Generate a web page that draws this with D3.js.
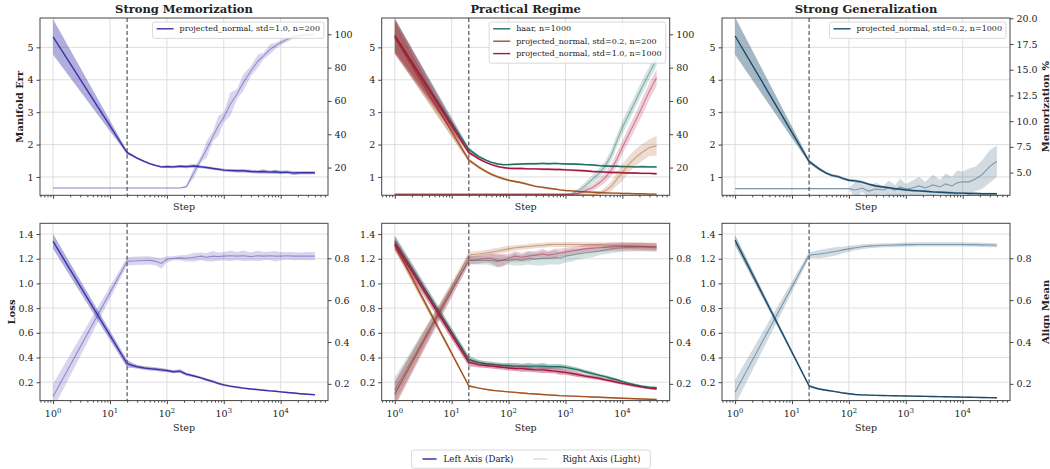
<!DOCTYPE html>
<html>
<head>
<meta charset="utf-8">
<script src="https://cdn.jsdelivr.net/npm/d3@7"></script>
<style>
  body { margin: 0; background: #fff; }
  svg text { font-family: 'DejaVu Serif', serif; fill: #222; }
</style>
</head>
<body>
<svg id="chart" width="1050" height="469"></svg>
<script>
// logged training steps
const steps = [1, 20, 25, 30, 40, 50, 65, 80, 100, 130, 170, 220, 300, 400, 500, 650, 800, 1000, 1300, 1700, 2200, 3000, 4000, 5000, 6500, 8000, 10000, 13000, 17000, 22000, 30000, 40000];

// Strong Memorization: projected_normal, std=1.0, n=200
const memErr = [5.32, 1.75, 1.66, 1.58, 1.48, 1.41, 1.35, 1.31, 1.32, 1.31, 1.33, 1.32, 1.34, 1.31, 1.29, 1.26, 1.24, 1.21, 1.20, 1.19, 1.19, 1.17, 1.16, 1.17, 1.15, 1.16, 1.14, 1.15, 1.12, 1.13, 1.13, 1.13];
const memErrSd = [0.55, 0.05, 0.04, 0.03, 0.03, 0.03, 0.03, 0.03, 0.04, 0.04, 0.04, 0.05, 0.05, 0.04, 0.04, 0.04, 0.04, 0.04, 0.04, 0.05, 0.05, 0.05, 0.05, 0.06, 0.05, 0.06, 0.05, 0.05, 0.06, 0.05, 0.05, 0.05];
const memPct = [7.7, 7.7, 7.7, 7.7, 7.7, 7.7, 7.7, 7.7, 7.7, 7.7, 7.7, 8.5, 17, 25, 31, 39, 45, 50, 58, 64, 71, 78, 84, 87, 91, 93, 95, 97, 98.5, 99.2, 99.8, 100];
const memPctSd = [0.3, 0.3, 0.3, 0.3, 0.3, 0.3, 0.3, 0.3, 0.3, 0.3, 0.3, 0.8, 3, 2, 5, 3, 6, 3, 7, 3, 5, 3, 4, 2, 3, 2, 1.5, 1.5, 1, 1, 0.8, 0.8];
const memLoss = [1.34, 0.35, 0.335, 0.325, 0.315, 0.31, 0.305, 0.30, 0.295, 0.285, 0.29, 0.265, 0.25, 0.235, 0.22, 0.205, 0.19, 0.178, 0.168, 0.16, 0.152, 0.145, 0.14, 0.135, 0.13, 0.127, 0.122, 0.117, 0.112, 0.107, 0.102, 0.098];
const memLossSd = [0.06, 0.03, 0.02, 0.015, 0.015, 0.015, 0.015, 0.015, 0.012, 0.012, 0.015, 0.012, 0.01, 0.01, 0.01, 0.01, 0.01, 0.008, 0.008, 0.008, 0.007, 0.007, 0.007, 0.006, 0.006, 0.006, 0.005, 0.005, 0.005, 0.005, 0.004, 0.004];
const memAlign = [0.14, 0.785, 0.787, 0.788, 0.789, 0.79, 0.785, 0.775, 0.795, 0.80, 0.802, 0.80, 0.805, 0.81, 0.805, 0.81, 0.808, 0.81, 0.812, 0.81, 0.812, 0.808, 0.812, 0.81, 0.812, 0.81, 0.81, 0.812, 0.81, 0.81, 0.81, 0.81];
const memAlignSd = [0.06, 0.02, 0.02, 0.02, 0.02, 0.02, 0.02, 0.025, 0.015, 0.01, 0.012, 0.015, 0.02, 0.018, 0.02, 0.025, 0.02, 0.02, 0.025, 0.02, 0.025, 0.02, 0.025, 0.02, 0.02, 0.025, 0.02, 0.018, 0.02, 0.018, 0.02, 0.02];

// Practical Regime: haar, n=1000
const haarErr = [5.38, 1.85, 1.73, 1.63, 1.52, 1.45, 1.40, 1.38, 1.38, 1.39, 1.40, 1.41, 1.41, 1.42, 1.41, 1.42, 1.41, 1.40, 1.40, 1.39, 1.38, 1.37, 1.35, 1.34, 1.33, 1.33, 1.32, 1.32, 1.31, 1.32, 1.31, 1.31];
const haarErrSd = [0.5, 0.07, 0.05, 0.04, 0.03, 0.03, 0.03, 0.03, 0.03, 0.03, 0.03, 0.03, 0.03, 0.03, 0.03, 0.03, 0.03, 0.03, 0.03, 0.03, 0.03, 0.03, 0.03, 0.03, 0.03, 0.03, 0.03, 0.03, 0.03, 0.03, 0.03, 0.03];
const haarPct = [3.9, 3.9, 3.9, 3.9, 3.9, 3.9, 3.9, 3.9, 3.9, 3.9, 3.9, 3.9, 3.9, 3.9, 3.9, 3.9, 3.9, 3.9, 4.2, 6, 9, 13, 17, 21, 28, 36, 44, 52, 60, 68, 77, 85];
const haarPctSd = [0.4, 0.4, 0.4, 0.4, 0.4, 0.4, 0.4, 0.4, 0.4, 0.4, 0.4, 0.4, 0.4, 0.4, 0.4, 0.4, 0.4, 0.4, 1, 1.5, 2, 2.5, 3, 3, 3.5, 3.5, 4, 4, 4, 4, 4, 4];
const haarLoss = [1.34, 0.385, 0.37, 0.36, 0.35, 0.345, 0.34, 0.335, 0.335, 0.33, 0.33, 0.33, 0.33, 0.33, 0.325, 0.325, 0.325, 0.32, 0.31, 0.30, 0.285, 0.27, 0.255, 0.245, 0.23, 0.22, 0.205, 0.19, 0.178, 0.168, 0.16, 0.155];
const haarLossSd = [0.05, 0.03, 0.025, 0.02, 0.02, 0.02, 0.02, 0.02, 0.02, 0.025, 0.02, 0.025, 0.02, 0.025, 0.02, 0.02, 0.02, 0.02, 0.02, 0.015, 0.015, 0.015, 0.012, 0.012, 0.012, 0.01, 0.01, 0.01, 0.01, 0.008, 0.008, 0.008];
const haarAlign = [0.17, 0.79, 0.79, 0.79, 0.79, 0.79, 0.785, 0.792, 0.79, 0.795, 0.79, 0.80, 0.795, 0.80, 0.80, 0.805, 0.80, 0.81, 0.815, 0.82, 0.825, 0.83, 0.835, 0.84, 0.845, 0.848, 0.85, 0.852, 0.853, 0.853, 0.852, 0.85];
const haarAlignSd = [0.06, 0.02, 0.02, 0.02, 0.02, 0.025, 0.03, 0.025, 0.02, 0.03, 0.025, 0.03, 0.03, 0.035, 0.03, 0.035, 0.03, 0.03, 0.03, 0.025, 0.025, 0.025, 0.02, 0.02, 0.02, 0.02, 0.02, 0.02, 0.02, 0.02, 0.02, 0.02];

// Practical Regime: projected_normal, std=0.2, n=200
const pn02Err = [5.30, 1.52, 1.40, 1.30, 1.17, 1.08, 1.00, 0.95, 0.90, 0.86, 0.82, 0.77, 0.71, 0.68, 0.65, 0.63, 0.60, 0.58, 0.57, 0.55, 0.54, 0.53, 0.52, 0.51, 0.50, 0.50, 0.49, 0.49, 0.48, 0.48, 0.47, 0.47];
const pn02ErrSd = [0.5, 0.06, 0.05, 0.05, 0.04, 0.04, 0.04, 0.04, 0.03, 0.03, 0.03, 0.03, 0.03, 0.03, 0.03, 0.02, 0.02, 0.02, 0.02, 0.02, 0.02, 0.02, 0.02, 0.02, 0.02, 0.02, 0.02, 0.02, 0.02, 0.02, 0.02, 0.02];
const pn02Pct = [3.9, 3.9, 3.9, 3.9, 3.9, 3.9, 3.9, 3.9, 3.9, 3.9, 3.9, 3.9, 3.9, 3.9, 3.9, 3.9, 3.9, 3.9, 3.9, 3.9, 3.9, 3.9, 4.5, 6, 9, 13, 17, 22, 26, 29, 32, 33];
const pn02PctSd = [0.4, 0.4, 0.4, 0.4, 0.4, 0.4, 0.4, 0.4, 0.4, 0.4, 0.4, 0.4, 0.4, 0.4, 0.4, 0.4, 0.4, 0.4, 0.4, 0.4, 0.4, 0.4, 1, 2, 3, 4, 5, 5, 5, 5, 5, 6];
const pn02Loss = [1.31, 0.17, 0.16, 0.152, 0.142, 0.135, 0.13, 0.126, 0.122, 0.118, 0.113, 0.108, 0.104, 0.10, 0.097, 0.094, 0.091, 0.089, 0.087, 0.085, 0.083, 0.08, 0.078, 0.076, 0.074, 0.072, 0.07, 0.068, 0.066, 0.064, 0.062, 0.06];
const pn02LossSd = [0.04, 0.008, 0.007, 0.006, 0.006, 0.005, 0.005, 0.005, 0.005, 0.005, 0.005, 0.005, 0.005, 0.005, 0.005, 0.005, 0.005, 0.005, 0.005, 0.005, 0.005, 0.005, 0.005, 0.005, 0.005, 0.005, 0.005, 0.005, 0.005, 0.005, 0.005, 0.005];
const pn02Align = [0.15, 0.815, 0.818, 0.82, 0.825, 0.83, 0.835, 0.84, 0.845, 0.85, 0.853, 0.856, 0.86, 0.862, 0.865, 0.866, 0.866, 0.866, 0.866, 0.866, 0.865, 0.865, 0.864, 0.863, 0.862, 0.861, 0.86, 0.859, 0.858, 0.857, 0.856, 0.855];
const pn02AlignSd = [0.06, 0.015, 0.015, 0.015, 0.015, 0.015, 0.015, 0.015, 0.015, 0.012, 0.012, 0.012, 0.012, 0.012, 0.012, 0.012, 0.012, 0.012, 0.012, 0.012, 0.012, 0.012, 0.012, 0.012, 0.015, 0.015, 0.015, 0.015, 0.015, 0.015, 0.015, 0.015];

// Practical Regime: projected_normal, std=1.0, n=1000
const pn10Err = [5.35, 1.75, 1.65, 1.56, 1.45, 1.38, 1.32, 1.29, 1.27, 1.26, 1.26, 1.25, 1.25, 1.24, 1.24, 1.23, 1.23, 1.22, 1.21, 1.20, 1.19, 1.17, 1.16, 1.15, 1.14, 1.14, 1.13, 1.12, 1.12, 1.11, 1.11, 1.10];
const pn10ErrSd = [0.55, 0.05, 0.04, 0.04, 0.03, 0.03, 0.03, 0.03, 0.03, 0.03, 0.03, 0.03, 0.03, 0.03, 0.03, 0.03, 0.03, 0.03, 0.03, 0.03, 0.03, 0.03, 0.03, 0.03, 0.03, 0.03, 0.03, 0.03, 0.03, 0.03, 0.03, 0.03];
const pn10Pct = [3.9, 3.9, 3.9, 3.9, 3.9, 3.9, 3.9, 3.9, 3.9, 3.9, 3.9, 3.9, 3.9, 3.9, 3.9, 3.9, 3.9, 3.9, 3.9, 4.5, 6, 8, 11, 14, 19, 25, 32, 40, 48, 56, 66, 74];
const pn10PctSd = [0.4, 0.4, 0.4, 0.4, 0.4, 0.4, 0.4, 0.4, 0.4, 0.4, 0.4, 0.4, 0.4, 0.4, 0.4, 0.4, 0.4, 0.4, 0.4, 1, 1.5, 2, 2.5, 3, 3.5, 4, 4, 4.5, 4.5, 5, 5, 5];
const pn10Loss = [1.32, 0.36, 0.35, 0.34, 0.335, 0.33, 0.325, 0.32, 0.315, 0.31, 0.31, 0.305, 0.30, 0.30, 0.295, 0.29, 0.285, 0.28, 0.27, 0.26, 0.25, 0.24, 0.23, 0.22, 0.21, 0.20, 0.19, 0.18, 0.17, 0.16, 0.15, 0.145];
const pn10LossSd = [0.05, 0.03, 0.025, 0.02, 0.02, 0.02, 0.02, 0.02, 0.02, 0.02, 0.025, 0.02, 0.02, 0.025, 0.02, 0.02, 0.025, 0.02, 0.02, 0.02, 0.015, 0.015, 0.015, 0.012, 0.012, 0.012, 0.01, 0.01, 0.01, 0.008, 0.008, 0.008];
const pn10Align = [0.15, 0.79, 0.792, 0.795, 0.80, 0.80, 0.79, 0.79, 0.80, 0.81, 0.805, 0.81, 0.815, 0.82, 0.815, 0.82, 0.825, 0.83, 0.835, 0.84, 0.845, 0.848, 0.85, 0.852, 0.855, 0.855, 0.857, 0.857, 0.856, 0.856, 0.855, 0.855];
const pn10AlignSd = [0.06, 0.02, 0.02, 0.02, 0.02, 0.025, 0.03, 0.03, 0.02, 0.025, 0.02, 0.025, 0.02, 0.025, 0.02, 0.025, 0.02, 0.02, 0.02, 0.02, 0.02, 0.02, 0.02, 0.02, 0.02, 0.02, 0.02, 0.02, 0.02, 0.02, 0.02, 0.02];

// Strong Generalization: projected_normal, std=0.2, n=1000
const genErr = [5.35, 1.48, 1.35, 1.25, 1.12, 1.05, 1.01, 0.95, 0.90, 0.88, 0.84, 0.78, 0.72, 0.69, 0.67, 0.64, 0.62, 0.60, 0.58, 0.57, 0.56, 0.54, 0.53, 0.52, 0.51, 0.50, 0.50, 0.49, 0.49, 0.48, 0.48, 0.48];
const genErrSd = [0.58, 0.06, 0.05, 0.05, 0.04, 0.04, 0.04, 0.04, 0.04, 0.04, 0.04, 0.04, 0.03, 0.03, 0.03, 0.03, 0.03, 0.03, 0.03, 0.03, 0.03, 0.03, 0.03, 0.03, 0.03, 0.03, 0.03, 0.03, 0.03, 0.03, 0.03, 0.03];
const genPct = [3.44, 3.44, 3.44, 3.44, 3.44, 3.44, 3.44, 3.44, 3.44, 3.3, 3.5, 3.2, 3.4, 3.3, 3.5, 3.3, 3.6, 3.4, 3.5, 3.7, 3.5, 3.8, 3.6, 3.9, 3.7, 4.0, 4.1, 4.1, 4.4, 4.8, 5.6, 6.1];
const genPctSd = [0.05, 0.05, 0.05, 0.05, 0.05, 0.05, 0.05, 0.05, 0.05, 0.8, 0.4, 0.5, 0.6, 0.4, 0.7, 0.5, 0.8, 0.5, 0.7, 0.9, 0.6, 1.0, 0.7, 1.0, 0.9, 1.2, 1.0, 1.3, 1.2, 1.4, 1.6, 1.5];
const genLoss = [1.35, 0.17, 0.155, 0.145, 0.135, 0.128, 0.12, 0.112, 0.106, 0.10, 0.097, 0.095, 0.093, 0.092, 0.091, 0.09, 0.089, 0.088, 0.087, 0.086, 0.085, 0.084, 0.083, 0.082, 0.081, 0.08, 0.079, 0.078, 0.077, 0.076, 0.075, 0.074];
const genLossSd = [0.04, 0.008, 0.008, 0.007, 0.007, 0.006, 0.006, 0.006, 0.006, 0.005, 0.005, 0.005, 0.005, 0.005, 0.005, 0.005, 0.005, 0.005, 0.005, 0.005, 0.005, 0.005, 0.005, 0.005, 0.005, 0.005, 0.005, 0.005, 0.005, 0.005, 0.005, 0.005];
const genAlign = [0.16, 0.815, 0.818, 0.82, 0.825, 0.83, 0.835, 0.84, 0.845, 0.85, 0.855, 0.858, 0.86, 0.862, 0.862, 0.863, 0.864, 0.865, 0.865, 0.866, 0.866, 0.866, 0.866, 0.866, 0.866, 0.866, 0.866, 0.865, 0.865, 0.864, 0.863, 0.862];
const genAlignSd = [0.06, 0.015, 0.015, 0.02, 0.02, 0.02, 0.02, 0.015, 0.015, 0.012, 0.012, 0.01, 0.01, 0.01, 0.01, 0.01, 0.01, 0.01, 0.01, 0.01, 0.01, 0.01, 0.01, 0.01, 0.01, 0.01, 0.01, 0.01, 0.01, 0.01, 0.01, 0.01];

// ticks and labels
const stepTicks = [1, 10, 100, 1000, 10000];
const errTicks = [1, 2, 3, 4, 5];
const pctTicks = [20, 40, 60, 80, 100];
const genPctTicks = [5, 7.5, 10, 12.5, 15, 17.5, 20];
const lossTicks = [0.2, 0.4, 0.6, 0.8, 1.0, 1.2, 1.4];
const alignTicks = [0.2, 0.4, 0.6, 0.8];
const titles = ['Strong Memorization', 'Practical Regime', 'Strong Generalization'];
const phaseStep = 20;

// colours
const cMem = '#3b33a8', cHaar = '#1e6e63', cPn02 = '#a4521f', cPn10 = '#a8143f', cGen = '#1b4a6b';

const svg = d3.select('#chart');
const colX = [40, 381.7, 722];
const rowY = [18, 223.3];
const pw = 288, ph = 177.3;
// matplotlib-like 5% margin on log range 1..40000
const xDomain = [Math.pow(10, -0.23), Math.pow(10, 4.832)];

function pts(vals, sds) {
  return steps.map((s, i) => ({ s: s, v: vals[i], sd: sds[i] }));
}

function drawPanel(o) {
  const g = svg.append('g');
  const x = d3.scaleLog().domain(xDomain).range([o.x0, o.x0 + pw]);
  const yL = d3.scaleLinear().domain(o.leftDomain).range([o.y0 + ph, o.y0]);
  const yR = d3.scaleLinear().domain(o.rightDomain).range([o.y0 + ph, o.y0]);

  const clipId = 'clip' + o.id;
  svg.append('clipPath').attr('id', clipId)
    .append('rect').attr('x', o.x0).attr('y', o.y0).attr('width', pw).attr('height', ph);

  // grid
  g.selectAll('.vg').data(stepTicks).enter().append('line')
    .attr('x1', d => x(d)).attr('x2', d => x(d))
    .attr('y1', o.y0).attr('y2', o.y0 + ph)
    .attr('stroke', '#dadada').attr('stroke-width', 0.9);
  g.selectAll('.hg').data(o.leftTicks).enter().append('line')
    .attr('x1', o.x0).attr('x2', o.x0 + pw)
    .attr('y1', d => yL(d)).attr('y2', d => yL(d))
    .attr('stroke', '#dadada').attr('stroke-width', 0.9);

  const plot = g.append('g').attr('clip-path', 'url(#' + clipId + ')');

  // left (dark) series
  o.series.forEach(s => {
    const d = pts(s.left, s.leftSd);
    plot.append('path').datum(d)
      .attr('d', d3.area().x(p => x(p.s)).y0(p => yL(p.v - p.sd)).y1(p => yL(p.v + p.sd)))
      .attr('fill', s.color).attr('fill-opacity', 0.4).attr('stroke', 'none');
    plot.append('path').datum(d)
      .attr('d', d3.line().x(p => x(p.s)).y(p => yL(p.v)))
      .attr('fill', 'none').attr('stroke', s.color).attr('stroke-width', 1.4);
  });

  // phase boundary
  g.append('line')
    .attr('x1', x(phaseStep)).attr('x2', x(phaseStep))
    .attr('y1', o.y0).attr('y2', o.y0 + ph)
    .attr('stroke', '#555').attr('stroke-width', 1.2).attr('stroke-dasharray', '4,2.5');

  // right (light) series
  o.series.forEach(s => {
    const d = pts(s.right, s.rightSd);
    plot.append('path').datum(d)
      .attr('d', d3.area().x(p => x(p.s)).y0(p => yR(p.v - p.sd)).y1(p => yR(p.v + p.sd)))
      .attr('fill', s.color).attr('fill-opacity', 0.2).attr('stroke', 'none');
    plot.append('path').datum(d)
      .attr('d', d3.line().x(p => x(p.s)).y(p => yR(p.v)))
      .attr('fill', 'none').attr('stroke', s.color).attr('stroke-opacity', 0.45).attr('stroke-width', 1.1);
  });

  // frame
  g.append('rect').attr('x', o.x0).attr('y', o.y0).attr('width', pw).attr('height', ph)
    .attr('fill', 'none').attr('stroke', '#444').attr('stroke-width', 1);

  // axes
  const left = g.append('g').attr('transform', 'translate(' + o.x0 + ',0)')
    .call(d3.axisLeft(yL).tickValues(o.leftTicks).tickSize(3.5).tickPadding(3).tickFormat(o.leftFmt));
  const right = g.append('g').attr('transform', 'translate(' + (o.x0 + pw) + ',0)')
    .call(d3.axisRight(yR).tickValues(o.rightTicks).tickSize(3.5).tickPadding(3).tickFormat(o.rightFmt));
  const bottom = g.append('g').attr('transform', 'translate(0,' + (o.y0 + ph) + ')')
    .call(d3.axisBottom(x).tickValues(stepTicks).tickSize(3.5).tickFormat(''));
  const minor = x.ticks().filter(t => stepTicks.indexOf(t) < 0 && t >= xDomain[0] && t <= xDomain[1]);
  const bottomMinor = g.append('g').attr('transform', 'translate(0,' + (o.y0 + ph) + ')')
    .call(d3.axisBottom(x).tickValues(minor).tickSize(2).tickFormat(''));
  [left, right, bottom, bottomMinor].forEach(a => {
    a.select('.domain').remove();
    a.selectAll('line').attr('stroke', '#444');
    a.selectAll('text').attr('font-size', 9.5).attr('font-family', "'DejaVu Serif', serif").attr('fill', '#222');
  });

  // log labels 10^k on bottom row
  if (o.xLabels) {
    const lab = g.selectAll('.xl').data(stepTicks).enter().append('text')
      .attr('x', d => x(d)).attr('y', o.y0 + ph + 16.5)
      .attr('text-anchor', 'middle').attr('font-size', 9.5);
    lab.append('tspan').text('10');
    lab.append('tspan').attr('dy', -4.5).attr('font-size', 6.8).text(d => Math.round(Math.log10(d)));
  }

  g.append('text').attr('x', o.x0 + pw / 2).attr('y', o.y0 + ph + (o.xLabels ? 30 : 15))
    .attr('text-anchor', 'middle').attr('font-size', 9.5).text('Step');

  if (o.title) {
    g.append('text').attr('x', o.x0 + pw / 2).attr('y', o.y0 - 5)
      .attr('text-anchor', 'middle').attr('font-size', 11.5).attr('font-weight', 'bold').text(o.title);
  }
  if (o.leftLabel) {
    g.append('text').attr('transform', 'translate(' + o.leftLabelX + ',' + (o.y0 + ph / 2) + ') rotate(-90)')
      .attr('text-anchor', 'middle').attr('dominant-baseline', 'central')
      .attr('font-size', 10).attr('font-weight', 'bold').text(o.leftLabel);
  }
  if (o.rightLabel) {
    g.append('text').attr('transform', 'translate(1045.5,' + (o.y0 + ph / 2) + ') rotate(-90)')
      .attr('text-anchor', 'middle').attr('dominant-baseline', 'central')
      .attr('font-size', 10).attr('font-weight', 'bold').text(o.rightLabel);
  }

  // legend, upper right
  if (o.legend) {
    const lg = g.append('g');
    const rowH = 12.4;
    const box = lg.append('rect');
    const texts = o.series.map((s, i) => lg.append('text')
      .attr('y', o.y0 + 4 + 6.8 + i * rowH).attr('dominant-baseline', 'central')
      .attr('font-size', 8).text(s.label));
    const tw = d3.max(texts, t => t.node().getComputedTextLength());
    const bw = 4 + 17 + 6 + tw + 4;
    const bx = o.x0 + pw - 4 - bw;
    box.attr('x', bx).attr('y', o.y0 + 4).attr('width', bw).attr('height', 5 + o.series.length * rowH - 3 + 2)
      .attr('rx', 2).attr('fill', '#fff').attr('fill-opacity', 0.85).attr('stroke', '#cfcfcf').attr('stroke-width', 0.8);
    texts.forEach(t => t.attr('x', bx + 4 + 17 + 6));
    o.series.forEach((s, i) => {
      lg.append('line').attr('x1', bx + 4).attr('x2', bx + 21)
        .attr('y1', o.y0 + 4 + 6.8 + i * rowH).attr('y2', o.y0 + 4 + 6.8 + i * rowH)
        .attr('stroke', s.color).attr('stroke-width', 1.4);
    });
  }
}

const memSeries = [{ label: 'projected_normal, std=1.0, n=200', color: cMem }];
const practSeries = [
  { label: 'haar, n=1000', color: cHaar },
  { label: 'projected_normal, std=0.2, n=200', color: cPn02 },
  { label: 'projected_normal, std=1.0, n=1000', color: cPn10 }
];
const genSeries = [{ label: 'projected_normal, std=0.2, n=1000', color: cGen }];

const topData = [
  [[memErr, memErrSd, memPct, memPctSd]],
  [[haarErr, haarErrSd, haarPct, haarPctSd], [pn02Err, pn02ErrSd, pn02Pct, pn02PctSd], [pn10Err, pn10ErrSd, pn10Pct, pn10PctSd]],
  [[genErr, genErrSd, genPct, genPctSd]]
];
const botData = [
  [[memLoss, memLossSd, memAlign, memAlignSd]],
  [[haarLoss, haarLossSd, haarAlign, haarAlignSd], [pn02Loss, pn02LossSd, pn02Align, pn02AlignSd], [pn10Loss, pn10LossSd, pn10Align, pn10AlignSd]],
  [[genLoss, genLossSd, genAlign, genAlignSd]]
];
const seriesMeta = [memSeries, practSeries, genSeries];

function build(meta, arrs) {
  return meta.map((m, i) => ({ label: m.label, color: m.color, left: arrs[i][0], leftSd: arrs[i][1], right: arrs[i][2], rightSd: arrs[i][3] }));
}

for (let c = 0; c < 3; c++) {
  drawPanel({
    id: 't' + c, x0: colX[c], y0: rowY[0], title: titles[c], legend: true, xLabels: false,
    leftDomain: [0.434, 5.906], leftTicks: errTicks, leftFmt: d3.format('d'),
    rightDomain: c === 2 ? [2.79, 20.03] : [3.34, 109.8],
    rightTicks: c === 2 ? genPctTicks : pctTicks,
    rightFmt: c === 2 ? d3.format('.1f') : d3.format('d'),
    series: build(seriesMeta[c], topData[c]),
    leftLabel: c === 0 ? 'Manifold Err' : null, leftLabelX: 19,
    rightLabel: c === 2 ? 'Memorization %' : null
  });
  drawPanel({
    id: 'b' + c, x0: colX[c], y0: rowY[1], title: null, legend: false, xLabels: true,
    leftDomain: [0.051, 1.487], leftTicks: lossTicks, leftFmt: d3.format('.1f'),
    rightDomain: [0.12, 0.967], rightTicks: alignTicks, rightFmt: d3.format('.1f'),
    series: build(seriesMeta[c], botData[c]),
    leftLabel: c === 0 ? 'Loss' : null, leftLabelX: 11,
    rightLabel: c === 2 ? 'Align Mean' : null
  });
}

// figure legend at bottom
const fl = svg.append('g');
const flItems = [{ label: 'Left Axis (Dark)', color: cMem }, { label: 'Right Axis (Light)', color: '#dcdaf3' }];
const flBox = fl.append('rect');
let cx = 0;
const flY = 459;
const parts = flItems.map(it => {
  const line = fl.append('line').attr('y1', flY).attr('y2', flY).attr('stroke', it.color).attr('stroke-width', 1.5);
  const t = fl.append('text').attr('y', flY).attr('dominant-baseline', 'central').attr('font-size', 8.7).text(it.label);
  return { line: line, t: t, w: t.node().getComputedTextLength() };
});
const totalW = 11 + 14 + 7 + parts[0].w + 20 + 14 + 15 + parts[1].w + 10;
const fx = 530.9 - totalW / 2;
cx = fx + 11;
parts.forEach((p, i) => {
  p.line.attr('x1', cx).attr('x2', cx + 14);
  cx += 14 + (i === 0 ? 7 : 15);
  p.t.attr('x', cx);
  cx += p.w + 20;
});
flBox.attr('x', fx).attr('y', 450).attr('width', totalW).attr('height', 18.3)
  .attr('rx', 2).attr('fill', '#fff').attr('stroke', '#cfcfcf').attr('stroke-width', 0.8);
</script>
</body>
</html>
